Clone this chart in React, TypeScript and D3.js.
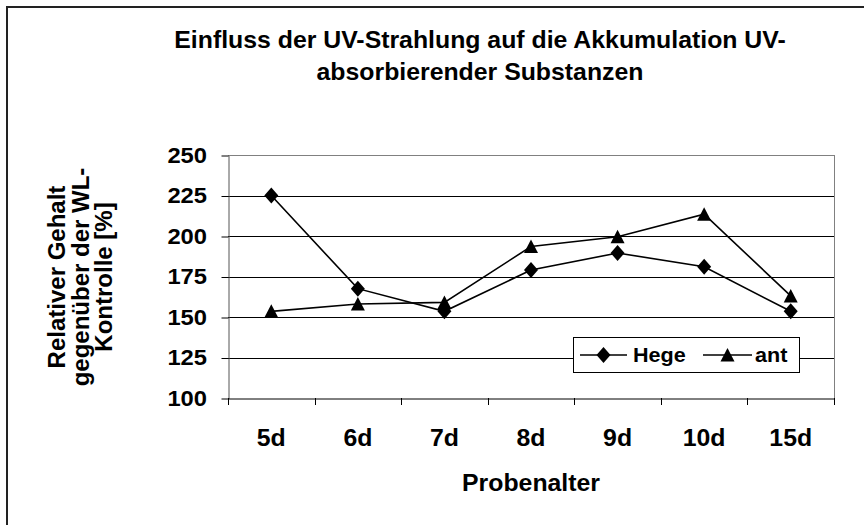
import React, { useEffect, useRef } from 'react';
import * as d3 from 'd3';

const categories = ['5d', '6d', '7d', '8d', '9d', '10d', '15d'];
const hegeValues = [225, 167.5, 153.5, 179, 189.5, 181, 153.5];
const antValues = [153.5, 158, 159, 193.5, 199.5, 213.5, 163];
const yTicks = [100, 125, 150, 175, 200, 225, 250];
const titleLines = ['Einfluss der UV-Strahlung auf die Akkumulation UV-', 'absorbierender Substanzen'];
const yTitleLines = ['Relativer Gehalt', 'gegenüber der WL-', 'Kontrolle [%]'];

const W = 864;
const H = 525;
const FONT = '"Liberation Sans", Arial, sans-serif';
const SX = 1.08; // the original is a bit wider than plain Arial

const diamondType = {
	draw(ctx: any) {
		ctx.moveTo(0, -8);
		ctx.lineTo(7, 0);
		ctx.lineTo(0, 8);
		ctx.lineTo(-7, 0);
		ctx.closePath();
	},
};
const triangleType = {
	draw(ctx: any) {
		ctx.moveTo(0, -7);
		ctx.lineTo(7, 6.5);
		ctx.lineTo(-7, 6.5);
		ctx.closePath();
	},
};

const App = () => {
	const ref = useRef<SVGSVGElement>(null);

	useEffect(() => {
		const svg = d3.select(ref.current);
		svg.selectAll('*').remove();

		const plot = { left: 228, top: 155, right: 834, bottom: 398 };

		const label = (g: any, x: number, y: number, txt: string, size: number, anchor = 'middle', dy = '0') =>
			g.append('text')
				.attr('transform', `translate(${x},${y}) scale(${SX},1)`)
				.attr('dy', dy)
				.attr('text-anchor', anchor)
				.attr('font-family', FONT).attr('font-size', size).attr('font-weight', 'bold')
				.attr('fill', '#000')
				.text(txt);

		// outer chart frame (cut off at right/bottom like the original)
		svg.append('rect')
			.attr('x', 7).attr('y', 7)
			.attr('width', W + 10).attr('height', H + 10)
			.attr('fill', '#fff').attr('stroke', '#222').attr('stroke-width', 2);

		const x = d3.scaleBand().domain(categories).range([plot.left, plot.right]);
		const y = d3.scaleLinear().domain([100, 250]).range([plot.bottom, plot.top]);

		// gridlines
		svg.append('g')
			.selectAll('line')
			.data(yTicks.filter(t => t > 100))
			.join('line')
			.attr('x1', plot.left).attr('x2', plot.right)
			.attr('y1', d => Math.round(y(d)) + 0.5).attr('y2', d => Math.round(y(d)) + 0.5)
			.attr('stroke', d => d === 250 ? '#808080' : '#000')
			.attr('stroke-width', 1);

		// plot-area right border
		svg.append('line')
			.attr('x1', plot.right + 0.5).attr('x2', plot.right + 0.5)
			.attr('y1', plot.top).attr('y2', plot.bottom)
			.attr('stroke', '#808080');

		// y axis
		const yAxis = svg.append('g')
			.attr('transform', `translate(${plot.left + 0.5},0.5)`)
			.call(d3.axisLeft(y).tickValues(yTicks).tickSize(7).tickFormat(() => '').tickSizeOuter(0));
		yAxis.select('.domain').attr('stroke', '#555');
		yAxis.selectAll('.tick line').attr('stroke', '#000');
		const yLabels = svg.append('g');
		yTicks.forEach(t => label(yLabels, 207, y(t), String(t), 22, 'end', '0.36em'));

		// x axis
		const xAxis = svg.append('g')
			.attr('transform', `translate(0.5,${plot.bottom + 0.5})`)
			.call(d3.axisBottom(x).tickSize(0).tickFormat(() => ''));
		xAxis.select('.domain').attr('stroke', '#000');
		svg.append('g')
			.selectAll('line')
			.data(d3.range(categories.length + 1))
			.join('line')
			.attr('x1', i => Math.round(plot.left + x.step() * i) + 0.5)
			.attr('x2', i => Math.round(plot.left + x.step() * i) + 0.5)
			.attr('y1', plot.bottom).attr('y2', plot.bottom + 7)
			.attr('stroke', '#000');
		const xLabels = svg.append('g');
		categories.forEach(c => label(xLabels, (x(c) as number) + x.bandwidth() / 2, 446, c, 23));

		const cx = (i: number) => (x(categories[i]) as number) + x.bandwidth() / 2;
		const line = d3.line<number>().x((d, i) => cx(i)).y(d => y(d));

		const diamond = d3.symbol().type(diamondType as any);
		const triangle = d3.symbol().type(triangleType as any);

		const series = [
			{ name: 'Hege', values: hegeValues, sym: diamond },
			{ name: 'ant', values: antValues, sym: triangle },
		];

		series.forEach(s => {
			svg.append('path')
				.datum(s.values)
				.attr('fill', 'none').attr('stroke', '#000').attr('stroke-width', 1.6)
				.attr('d', line);
			svg.append('g')
				.selectAll('path')
				.data(s.values)
				.join('path')
				.attr('transform', (d, i) => `translate(${cx(i)},${y(d)})`)
				.attr('d', s.sym())
				.attr('fill', '#000');
		});

		// legend
		const lg = svg.append('g');
		lg.append('rect')
			.attr('x', 573.5).attr('y', 337.5).attr('width', 226).attr('height', 35)
			.attr('fill', '#fff').attr('stroke', '#000');
		const items = [
			{ x0: 580, x1: 627, text: 633, label: 'Hege', sym: diamond },
			{ x0: 703, x1: 752, text: 755, label: 'ant', sym: triangle },
		];
		items.forEach(it => {
			lg.append('line')
				.attr('x1', it.x0).attr('x2', it.x1).attr('y1', 355).attr('y2', 355)
				.attr('stroke', '#000').attr('stroke-width', 1.6);
			lg.append('path')
				.attr('transform', `translate(${(it.x0 + it.x1) / 2},355)`)
				.attr('d', it.sym())
				.attr('fill', '#000');
			label(lg, it.text, 362, it.label, 20, 'start');
		});

		// title
		const tg = svg.append('g');
		titleLines.forEach((t, i) => label(tg, 480, 48 + i * 32, t, 23));

		// y title
		const yt = svg.append('g').attr('transform', 'translate(0,277) rotate(-90)');
		yTitleLines.forEach((t, i) =>
			yt.append('text')
				.attr('x', 0).attr('y', 65 + i * 23.5)
				.attr('text-anchor', 'middle')
				.attr('font-family', FONT).attr('font-size', 24).attr('font-weight', 'bold')
				.text(t));

		// x title
		label(svg, 531, 491, 'Probenalter', 23);
	}, []);

	return <svg ref={ref} width={W} height={H} style={{ position: 'absolute', left: 0, top: 0, background: '#fff' }} />;
};

export default App;
